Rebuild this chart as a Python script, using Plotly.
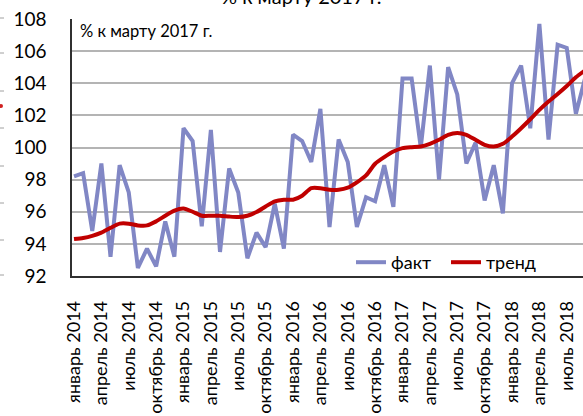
import plotly.graph_objects as go

months_ru = ["январь", "февраль", "март", "апрель", "май", "июнь",
             "июль", "август", "сентябрь", "октябрь", "ноябрь", "декабрь"]
years = [2014, 2015, 2016, 2017, 2018]

fact = [
    98.2, 98.4, 94.8, 99.0, 93.2, 98.9, 97.2, 92.5, 93.7, 92.6, 95.4, 93.2,
    101.2, 100.4, 95.1, 101.1, 93.5, 98.7, 97.2, 93.1, 94.7, 93.8, 96.5, 93.7,
    100.8, 100.4, 99.1, 102.4, 95.05, 100.5, 99.1, 95.05, 96.9, 96.65, 98.9, 96.3,
    104.3, 104.3, 100.0, 105.1, 98.0, 105.0, 103.3, 99.0, 100.3, 96.7, 98.9, 95.9,
    104.0, 105.1, 101.2, 107.7, 100.5, 106.4, 106.2, 102.1, 104.3,
]
trend = [
    94.3, 94.37, 94.5, 94.7, 95.0, 95.26, 95.26, 95.15, 95.15, 95.4, 95.75, 96.07,
    96.2, 96.0, 95.75, 95.75, 95.75, 95.7, 95.67, 95.75, 95.98, 96.33, 96.65, 96.75,
    96.75, 97.0, 97.47, 97.47, 97.37, 97.37, 97.5, 97.83, 98.26, 98.99, 99.4, 99.75,
    99.96, 100.02, 100.06, 100.23, 100.48, 100.79, 100.9, 100.79, 100.48, 100.17, 100.06, 100.23,
    100.68, 101.2, 101.76, 102.34, 102.86, 103.33, 103.83, 104.37, 104.8,
]

idx = list(range(len(fact)))
labels = [f"{months_ru[i % 12]} {years[i // 12]}" for i in idx]
tick_idx = [i for i in idx if i % 3 == 0]
tick_text = [labels[i] for i in tick_idx]
y_ticks = list(range(92, 109, 2))

FONT = "Lato"
W, H = 583, 416
ML, MT, MB = 72, 19, 140
PW = W - ML
PH = H - MT - MB

fig = go.Figure()
fig.add_trace(go.Scatter(x=idx, y=fact, mode="lines", name="факт",
                         line=dict(color="#8187C5", width=4)))
fig.add_trace(go.Scatter(x=idx, y=trend, mode="lines", name="тренд",
                         line=dict(color="#C00000", width=4, shape="spline", smoothing=0.6)))

def px2paper_x(px):
    return (px - ML) / PW

def px2paper_y(py):
    return (H - MB - py) / PH

shapes = []
for py in [18, 53, 91, 128, 166, 203, 240, 275]:
    shapes.append(dict(type="line", xref="paper", yref="paper",
                       x0=px2paper_x(0), x1=px2paper_x(4),
                       y0=px2paper_y(py), y1=px2paper_y(py),
                       line=dict(color="#a0a0a0", width=1)))
shapes.append(dict(type="circle", xref="paper", yref="paper",
                   x0=px2paper_x(-1), x1=px2paper_x(3),
                   y0=px2paper_y(108), y1=px2paper_y(104),
                   fillcolor="#d02020", line=dict(width=0)))

fig.update_layout(
    width=W, height=H,
    margin=dict(l=ML, r=0, t=MT, b=MB),
    paper_bgcolor="white", plot_bgcolor="white",
    font=dict(family=FONT, color="#000000"),
    showlegend=True,
    legend=dict(orientation="h", x=px2paper_x(351), y=px2paper_y(244),
                xanchor="left", yanchor="top",
                font=dict(size=18, family=FONT, color="#000"),
                bgcolor="rgba(0,0,0,0)", itemwidth=30,
                entrywidth=50, entrywidthmode="pixels"),
    xaxis=dict(range=[-0.22, 55.78], tickvals=tick_idx, ticktext=tick_text,
               tickangle=-90, showgrid=False, zeroline=False,
               showline=True, linecolor="#303030", linewidth=1.5,
               ticks="", ticklabelstandoff=16,
               tickfont=dict(size=18, family=FONT, color="#000")),
    yaxis=dict(range=[92, 108], tickvals=y_ticks, showgrid=True,
               gridcolor="#b4b4b4", gridwidth=1.5, zeroline=False,
               showline=True, linecolor="#303030", linewidth=1.5,
               ticks="", ticklabelstandoff=20,
               tickfont=dict(size=19, family=FONT, color="#000")),
    shapes=shapes,
    annotations=[
        dict(text="% к марту 2017 г.", xref="paper", yref="paper",
             x=px2paper_x(78), y=px2paper_y(19), xanchor="left", yanchor="top",
             showarrow=False, font=dict(size=16.5, family=FONT, color="#000")),
        dict(text="% к марту 2017 г.", xref="paper", yref="paper",
             x=px2paper_x(301), y=px2paper_y(10), xanchor="center", yanchor="bottom",
             showarrow=False, font=dict(size=20, family=FONT, color="#000")),
    ],
)

fig.write_html("out.html", config={"displayModeBar": False},
               post_script="document.body.style.margin='0px';")
